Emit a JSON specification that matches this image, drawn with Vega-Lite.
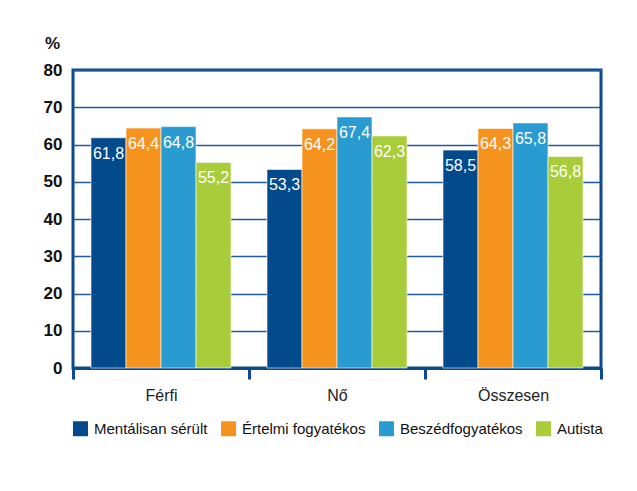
{
  "$schema": "https://vega.github.io/schema/vega-lite/v6.json",
  "autosize": {"type": "none"},
  "width": 528,
  "height": 298,
  "padding": {"left": 73, "top": 70, "right": 36, "bottom": 123},
  "background": "white",
  "config": {
    "locale": {"number": {"decimal": ",", "thousands": " ", "grouping": [3], "currency": ["", ""]}},
    "font": "Liberation Sans",
    "view": {"stroke": "#0b4a8e", "strokeWidth": 3}
  },
  "data": {
    "values": [
      {"nem": "Férfi", "csoport": "Mentálisan sérült", "ertek": 61.8},
      {"nem": "Férfi", "csoport": "Értelmi fogyatékos", "ertek": 64.4},
      {"nem": "Férfi", "csoport": "Beszédfogyatékos", "ertek": 64.8},
      {"nem": "Férfi", "csoport": "Autista", "ertek": 55.2},
      {"nem": "Nő", "csoport": "Mentálisan sérült", "ertek": 53.3},
      {"nem": "Nő", "csoport": "Értelmi fogyatékos", "ertek": 64.2},
      {"nem": "Nő", "csoport": "Beszédfogyatékos", "ertek": 67.4},
      {"nem": "Nő", "csoport": "Autista", "ertek": 62.3},
      {"nem": "Összesen", "csoport": "Mentálisan sérült", "ertek": 58.5},
      {"nem": "Összesen", "csoport": "Értelmi fogyatékos", "ertek": 64.3},
      {"nem": "Összesen", "csoport": "Beszédfogyatékos", "ertek": 65.8},
      {"nem": "Összesen", "csoport": "Autista", "ertek": 56.8}
    ]
  },
  "encoding": {
    "x": {
      "field": "nem", "type": "nominal", "sort": ["Férfi", "Nő", "Összesen"],
      "scale": {"paddingInner": 0, "paddingOuter": 0},
      "axis": {
        "title": null, "labelAngle": 0, "tickBand": "extent",
        "domainColor": "#0b4a8e", "domainWidth": 3,
        "tickColor": "#0b4a8e", "tickWidth": 3, "tickSize": 11,
        "labelFont": "Liberation Sans", "labelFontSize": 16, "labelColor": "#222222",
        "labelPadding": 8
      }
    },
    "xOffset": {
      "field": "csoport", "type": "nominal",
      "sort": ["Mentálisan sérült", "Értelmi fogyatékos", "Beszédfogyatékos", "Autista"],
      "scale": {"paddingInner": 0, "paddingOuter": 0.514}
    },
    "y": {
      "field": "ertek", "type": "quantitative",
      "scale": {"domain": [0, 80]},
      "axis": {
        "title": "%", "titleAngle": 0, "titleX": -21, "titleY": -27,
        "titleAlign": "center", "titleBaseline": "middle",
        "titleFont": "Liberation Sans", "titleFontSize": 17, "titleFontWeight": "bold", "titleColor": "#111111",
        "values": [0, 10, 20, 30, 40, 50, 60, 70, 80],
        "domain": false, "ticks": false,
        "labelFont": "Liberation Sans", "labelFontSize": 17, "labelFontWeight": "bold", "labelColor": "#111111",
        "labelPadding": 11,
        "gridColor": "#1f5a9e", "gridWidth": 1.5
      }
    }
  },
  "layer": [
    {
      "mark": {"type": "bar", "stroke": "white", "strokeWidth": 0.6},
      "encoding": {
        "color": {
          "field": "csoport", "type": "nominal",
          "scale": {
            "domain": ["Mentálisan sérült", "Értelmi fogyatékos", "Beszédfogyatékos", "Autista"],
            "range": ["#024a8c", "#f6921e", "#2a9bd0", "#a8cc3a"]
          },
          "legend": {
            "title": null, "orient": "bottom", "direction": "horizontal",
            "symbolType": "square", "symbolSize": 225, "symbolStrokeWidth": 0, "symbolOpacity": 1,
            "labelFont": "Liberation Sans", "labelFontSize": 15, "labelColor": "#111111",
            "labelOffset": 6, "columnPadding": 13, "offset": 18
          }
        }
      }
    },
    {
      "mark": {"type": "text", "color": "white", "baseline": "top", "dy": 8, "fontSize": 16, "font": "Liberation Sans"},
      "encoding": {
        "text": {"field": "ertek", "type": "quantitative", "format": ".1f"}
      }
    }
  ]
}
